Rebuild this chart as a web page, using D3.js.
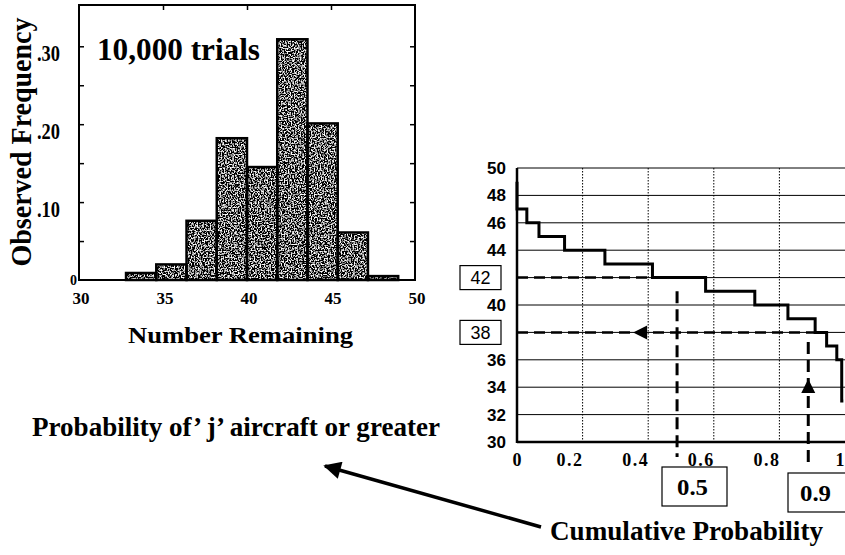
<!DOCTYPE html>
<html>
<head>
<meta charset="utf-8">
<script src="https://cdn.jsdelivr.net/npm/d3@7/dist/d3.min.js"></script>
<style>
  body { margin: 0; background: #fff; }
  svg { display: block; }
  .serif { font-family: "Liberation Serif", "Times New Roman", serif; font-weight: bold; }
  .sans { font-family: "Liberation Sans", Arial, sans-serif; font-weight: bold; }
</style>
</head>
<body>
<svg width="845" height="555"></svg>
<script>
// histogram of number remaining (10,000 trials)
const binEdges = [32.8, 34.6, 36.4, 38.2, 40.0, 41.8, 43.6, 45.4, 47.2, 49.0];
const binFreq = [0.009, 0.02, 0.076, 0.182, 0.145, 0.309, 0.201, 0.061, 0.005];
const histXTicks = [30, 35, 40, 45, 50];
const histYTicks = [0.1, 0.2, 0.3];
const histMinorTicks = [0.05, 0.1, 0.15, 0.2, 0.25, 0.3];

// cumulative probability step curve
const cumP = [0, 0.03, 0.067, 0.145, 0.268, 0.413, 0.575, 0.725, 0.826, 0.909, 0.944, 0.975, 0.99, 0.995];
const aircraft = [49, 47, 46, 45, 44, 43, 42, 41, 40, 39, 38, 37, 36, 33];
const cumXTicks = [0, 0.2, 0.4, 0.6, 0.8, 1];
const cumYTicks = [30, 32, 34, 36, 38, 40, 42, 44, 46, 48, 50];
const boxedLevels = [42, 38];
const boxedProbs = [0.488, 0.888];
const boxedProbLabels = ["0.5", "0.9"];

const svg = d3.select("svg"),
  width = +svg.attr("width"),
  height = +svg.attr("height");

const defs = svg.append("defs");

// grainy stipple for the bars
const f = defs
  .append("filter")
  .attr("id", "stipple")
  .attr("x", 0)
  .attr("y", 0)
  .attr("width", 1)
  .attr("height", 1);
f.append("feTurbulence")
  .attr("type", "fractalNoise")
  .attr("baseFrequency", 0.7)
  .attr("numOctaves", 1)
  .attr("seed", 4)
  .attr("result", "noise");
f.append("feColorMatrix")
  .attr("in", "noise")
  .attr("type", "matrix")
  .attr("values", "5 0 0 0 -2.35  5 0 0 0 -2.35  5 0 0 0 -2.35  0 0 0 0 1")
  .attr("result", "grain");
f.append("feComposite")
  .attr("in", "grain")
  .attr("in2", "SourceGraphic")
  .attr("operator", "in");

defs
  .append("marker")
  .attr("id", "head")
  .attr("viewBox", "0 0 10 10")
  .attr("refX", 9)
  .attr("refY", 5)
  .attr("markerWidth", 6)
  .attr("markerHeight", 5)
  .attr("markerUnits", "strokeWidth")
  .attr("orient", "auto")
  .append("path")
  .attr("d", "M0,0L10,5L0,10z")
  .attr("fill", "#000");

// text helper: bold serif squeezed/stretched to the width seen in the scan
function label(g, txt, x, y, size, len, anchor) {
  const t = g
    .append("text")
    .attr("class", "serif")
    .attr("x", x)
    .attr("y", y)
    .attr("font-size", size)
    .attr("text-anchor", anchor || "start")
    .text(txt);
  if (len) t.attr("textLength", len).attr("lengthAdjust", "spacingAndGlyphs");
  return t;
}

// ---------- left: histogram ----------
const x1 = d3.scaleLinear().domain([30, 50]).range([79, 415]);
const y1 = d3.scaleLinear().domain([0, 0.353]).range([280, 5]);

const hist = svg.append("g");

const bins = binFreq.map(function (v, i) {
  return { x0: binEdges[i], x1: binEdges[i + 1], v: v };
});

hist
  .selectAll("rect.fill")
  .data(bins)
  .enter()
  .append("rect")
  .attr("class", "fill")
  .attr("x", (d) => x1(d.x0))
  .attr("y", (d) => y1(d.v))
  .attr("width", (d) => x1(d.x1) - x1(d.x0))
  .attr("height", (d) => y1(0) - y1(d.v))
  .attr("fill", "#666")
  .attr("filter", "url(#stipple)");

hist
  .selectAll("rect.edge")
  .data(bins)
  .enter()
  .append("rect")
  .attr("class", "edge")
  .attr("x", (d) => x1(d.x0))
  .attr("y", (d) => y1(d.v))
  .attr("width", (d) => x1(d.x1) - x1(d.x0))
  .attr("height", (d) => y1(0) - y1(d.v))
  .attr("fill", "none")
  .attr("stroke", "#000")
  .attr("stroke-width", 2.5);

// frame
hist
  .append("rect")
  .attr("x", x1(30))
  .attr("y", y1(0.353))
  .attr("width", x1(50) - x1(30))
  .attr("height", y1(0) - y1(0.353))
  .attr("fill", "none")
  .attr("stroke", "#000")
  .attr("stroke-width", 2);

// inner ticks
function tickStyle(g) {
  g.select(".domain").remove();
  g.selectAll("line").attr("stroke", "#000").attr("stroke-width", 1.5);
  g.selectAll("text").remove();
}
hist.append("g").attr("transform", `translate(${x1(30)},0)`)
  .call(d3.axisRight(y1).tickValues(histMinorTicks).tickSize(5)).call(tickStyle);
hist.append("g").attr("transform", `translate(${x1(50)},0)`)
  .call(d3.axisLeft(y1).tickValues(histMinorTicks).tickSize(5)).call(tickStyle);
hist.append("g").attr("transform", `translate(0,${y1(0.353)})`)
  .call(d3.axisBottom(x1).tickValues([35, 40, 45]).tickSize(5)).call(tickStyle);

// y tick labels
hist
  .selectAll("text.ylab")
  .data(histYTicks)
  .enter()
  .append("text")
  .attr("class", "serif")
  .attr("x", 37)
  .attr("y", (d) => y1(d) + 15)
  .attr("font-size", 24)
  .attr("textLength", 23)
  .attr("lengthAdjust", "spacingAndGlyphs")
  .text((d) => d3.format(".2f")(d).replace(/^0/, ""));

hist
  .append("text")
  .attr("class", "serif")
  .attr("x", 70)
  .attr("y", 285)
  .attr("font-size", 14)
  .text("0");

// x tick labels
hist
  .selectAll("text.xlab")
  .data(histXTicks)
  .enter()
  .append("text")
  .attr("class", "serif")
  .attr("x", (d) => x1(d) + 2)
  .attr("y", 304)
  .attr("text-anchor", "middle")
  .attr("font-size", 17)
  .text((d) => d);

label(hist, "10,000 trials", 97, 60, 32, 163);

label(hist, "Observed Frequency", 0, 0, 29, 249, "middle")
  .attr("x", null)
  .attr("y", null)
  .attr("transform", "translate(31,142) rotate(-90)");

label(hist, "Number Remaining", 128, 343, 24, 225);

// ---------- right: cumulative probability ----------
const x2 = d3.scaleLinear().domain([0, 1]).range([517, 845]);
const y2 = d3.scaleLinear().domain([30, 50]).range([442, 168]);

const cum = svg.append("g");

// horizontal grid (solid) and vertical grid (dotted)
cum
  .selectAll("line.hgrid")
  .data(cumYTicks)
  .enter()
  .append("line")
  .attr("x1", x2(0))
  .attr("x2", x2(1))
  .attr("y1", (d) => y2(d))
  .attr("y2", (d) => y2(d))
  .attr("stroke", "#000")
  .attr("stroke-width", 1);

cum
  .selectAll("line.vgrid")
  .data(cumXTicks.slice(1, -1))
  .enter()
  .append("line")
  .attr("x1", (d) => x2(d))
  .attr("x2", (d) => x2(d))
  .attr("y1", y2(50))
  .attr("y2", y2(30))
  .attr("stroke", "#000")
  .attr("stroke-width", 1)
  .attr("stroke-dasharray", "1.5,1.5");

cum
  .append("line")
  .attr("x1", x2(0))
  .attr("x2", x2(0))
  .attr("y1", y2(50))
  .attr("y2", y2(30) + 1)
  .attr("stroke", "#000")
  .attr("stroke-width", 2.5);
cum
  .append("line")
  .attr("x1", x2(0))
  .attr("x2", x2(1))
  .attr("y1", y2(30))
  .attr("y2", y2(30))
  .attr("stroke", "#000")
  .attr("stroke-width", 2.5);

// y tick labels (42 and 38 are boxed)
cum
  .selectAll("text.ylab")
  .data(cumYTicks.filter((d) => boxedLevels.indexOf(d) < 0))
  .enter()
  .append("text")
  .attr("class", "sans")
  .attr("x", 506)
  .attr("y", (d) => y2(d) + 6)
  .attr("text-anchor", "end")
  .attr("font-size", 17)
  .text((d) => d);

const lvBox = cum
  .selectAll("g.lvbox")
  .data(boxedLevels)
  .enter()
  .append("g")
  .attr("transform", (d) => `translate(460,${y2(d) - 12})`);
lvBox
  .append("rect")
  .attr("width", 41)
  .attr("height", 24)
  .attr("fill", "#fff")
  .attr("stroke", "#000")
  .attr("stroke-width", 1.2);
lvBox
  .append("text")
  .attr("x", 20.5)
  .attr("y", 18.5)
  .attr("text-anchor", "middle")
  .attr("font-family", "Liberation Sans, Arial, sans-serif")
  .attr("font-size", 18)
  .text((d) => d);

// x tick labels
cum
  .selectAll("text.xlab")
  .data(cumXTicks)
  .enter()
  .append("text")
  .attr("class", "serif")
  .attr("x", (d) => x2(d) + (d === 0 ? 6 : 1))
  .attr("y", 466)
  .attr("text-anchor", "end")
  .attr("font-size", 18)
  .attr("letter-spacing", 1.5)
  .text((d) => d);

// dashed reference lines
cum
  .selectAll("line.refh")
  .data(boxedLevels)
  .enter()
  .append("line")
  .attr("x1", x2(0))
  .attr("x2", (d) => x2(cumP[aircraft.indexOf(d)]))
  .attr("y1", (d) => y2(d))
  .attr("y2", (d) => y2(d))
  .attr("stroke", "#000")
  .attr("stroke-width", 2.5)
  .attr("stroke-dasharray", "11,6");

cum
  .selectAll("line.refv")
  .data(boxedProbs)
  .enter()
  .append("line")
  .attr("x1", (d) => x2(d))
  .attr("x2", (d) => x2(d))
  .attr("y1", (d, i) => (i === 0 ? y2(41) : y2(37.3)))
  .attr("y2", (d, i) => (i === 0 ? 457 : 467))
  .attr("stroke", "#000")
  .attr("stroke-width", 3)
  .attr("stroke-dasharray", "12,6");

// arrowheads on the reference lines
function tri(cx, cy, dir) {
  const L = 14, W = 7;
  if (dir === "left")
    return `M${cx},${cy}L${cx + L},${cy - W}L${cx + L},${cy + W}Z`;
  return `M${cx},${cy}L${cx - W},${cy + L}L${cx + W},${cy + L}Z`;
}
cum.append("path").attr("d", tri(x2(0.354), y2(38), "left")).attr("fill", "#000");
cum.append("path").attr("d", tri(x2(boxedProbs[1]), 379, "up")).attr("fill", "#000");

// step curve
const step = d3
  .line()
  .x((d) => x2(d[0]))
  .y((d) => y2(d[1]))
  .curve(d3.curveStepBefore);
cum
  .append("path")
  .datum(d3.zip(cumP, aircraft))
  .attr("d", step)
  .attr("fill", "none")
  .attr("stroke", "#000")
  .attr("stroke-width", 3);

// boxed probability labels
const pBox = cum
  .selectAll("g.pbox")
  .data(boxedProbLabels)
  .enter()
  .append("g")
  .attr("transform", (d, i) => (i === 0 ? "translate(662,467)" : "translate(788,473)"));
pBox
  .append("rect")
  .attr("width", (d, i) => (i === 0 ? 65 : 62))
  .attr("height", 39)
  .attr("fill", "#fff")
  .attr("stroke", "#000")
  .attr("stroke-width", 1.2);
pBox
  .append("text")
  .attr("class", "serif")
  .attr("x", (d, i) => (i === 0 ? 15 : 12))
  .attr("y", 28)
  .attr("font-size", 23)
  .attr("textLength", 31)
  .attr("lengthAdjust", "spacingAndGlyphs")
  .text((d) => d);

// ---------- annotations ----------
label(svg, "Probability of’ j’ aircraft or greater", 32, 436, 28, 408);
label(svg, "Cumulative Probability", 550, 540, 28, 273);

svg
  .append("line")
  .attr("x1", 541)
  .attr("y1", 527)
  .attr("x2", 325)
  .attr("y2", 466)
  .attr("stroke", "#000")
  .attr("stroke-width", 3.5)
  .attr("marker-end", "url(#head)");
</script>
</body>
</html>
